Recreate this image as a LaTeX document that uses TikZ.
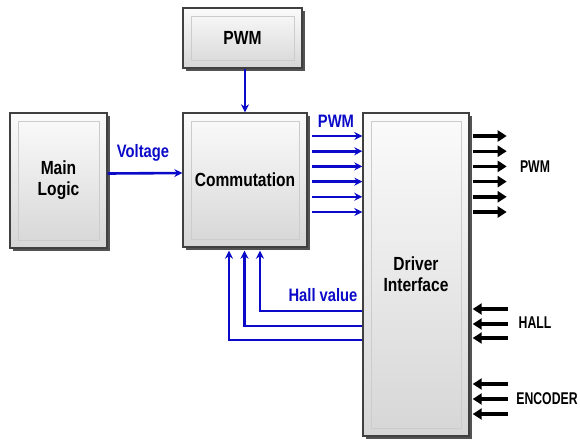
\documentclass[tikz,border=0pt]{standalone}
\usepackage{fontspec}
\setmainfont{Liberation Sans}[FakeStretch=0.82]
\newfontfamily\pinfont{Liberation Sans}[FakeStretch=0.72]
\usetikzlibrary{calc, arrows.meta, shadows}

\definecolor{sigblue}{RGB}{10,10,200}

\begin{document}
\begin{tikzpicture}[x=1pt, y=-1pt, >=Stealth,
    block/.style={draw=black!75, line width=1.4pt, top color=gray!3, bottom color=gray!32,
        drop shadow={shadow xshift=3pt, shadow yshift=-3pt, fill=black!75, opacity=0.9},
        font=\fontsize{19}{21}\selectfont\bfseries, align=center, inner sep=0pt,
        path picture={\draw[gray!40, line width=1pt]
            ([shift={(8pt,-8pt)}]path picture bounding box.north west) rectangle
            ([shift={(-8pt,8pt)}]path picture bounding box.south east);}},
    sig/.style={draw=sigblue, line width=2.6pt, -{Stealth[length=8pt, width=8pt]}},
    pin/.style={draw=black, line width=3.4pt, -{Triangle[length=9pt, width=11pt]}},
    bluelbl/.style={text=sigblue, font=\fontsize{18}{20}\selectfont\bfseries, inner sep=1pt},
    pinlbl/.style={text=black, font=\pinfont\fontsize{17}{20}\selectfont\bfseries, inner sep=1pt}]

    \useasboundingbox (0,0) rectangle (580,440);

    % ==========================================
    % 1. BLOCKS
    % ==========================================
    \node[block, minimum width=97pt, minimum height=135pt] (mainlogic) at (58.5,180.5) {Main\\Logic};
    \node[block, minimum width=119pt, minimum height=60pt] (pwmbox) at (242.5,38) {PWM};
    \node[block, minimum width=124pt, minimum height=134pt] (comm) at (245,180) {Commutation};
    \node[block, minimum width=106pt, minimum height=323pt] (driver) at (416,274.5) {Driver\\Interface};

    % ==========================================
    % 2. INTERNAL SIGNALS (blue)
    % ==========================================
    \draw[sig] (pwmbox.south -| comm.north) -- (comm.north);
    \draw[sig] ([yshift=7pt]mainlogic.east) -- ([yshift=7pt]comm.west);
    \node[bluelbl] (voltlbl) at (143,153) {Voltage};

    % PWM lines into the driver
    \foreach \i in {0,...,5} {
        \draw[sig] ([xshift=4pt]comm.east |- 0,136+15.2*\i) -- (driver.west |- 0,136+15.2*\i);
    }
    \node[bluelbl] (pwmlbl) at (336,121) {PWM};

    % Hall value feedback
    \draw[sig] (driver.west |- 0,311) -| ([yshift=-3pt]comm.south -| 260,0);
    \draw[sig] (driver.west |- 0,326) -| ([yshift=-3pt]comm.south -| 244.5,0);
    \draw[sig] (driver.west |- 0,340) -| ([yshift=-3pt]comm.south -| 229,0);
    \node[bluelbl] (halllbl) at (323,295) {Hall value};

    % ==========================================
    % 3. EXTERNAL PINS (black)
    % ==========================================
    \foreach \i in {0,...,5} {
        \draw[pin] ([xshift=3pt]driver.east |- 0,136+15.2*\i) -- ++(34,0);
    }
    \node[pinlbl] (pwmout) at (535,167) {PWM};

    \foreach \y in {309,324,338} {
        \draw[pin] (508,\y) -- ([xshift=3pt]driver.east |- 0,\y);
    }
    \node[pinlbl] (hallin) at (535,323) {HALL};

    \foreach \y in {384,399,414} {
        \draw[pin] (508,\y) -- ([xshift=3pt]driver.east |- 0,\y);
    }
    \node[pinlbl] (encin) at (547,399) {ENCODER};

\end{tikzpicture}
\end{document}
